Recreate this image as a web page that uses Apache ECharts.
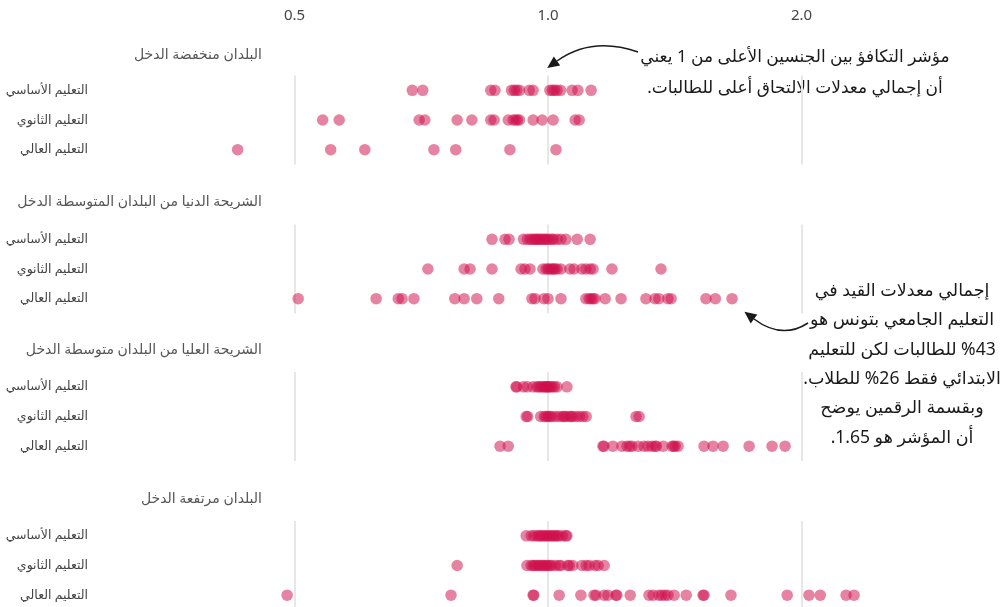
<!DOCTYPE html>
<html lang="ar">
<head>
<meta charset="utf-8">
<script src="https://cdn.jsdelivr.net/npm/echarts@6/dist/echarts.min.js"></script>
<style>
  html, body { margin: 0; padding: 0; background: #fff; }
  #chart { width: 1002px; height: 607px; }
</style>
</head>
<body>
<div id="chart" dir="rtl"></div>
<script>
// Gender parity index (female / male gross enrolment) by income group and level
const FONT = "'Noto Sans', 'DejaVu Sans', sans-serif";

const groupTitles = [
  'البلدان منخفضة الدخل',
  'الشريحة الدنيا من البلدان المتوسطة الدخل',
  'الشريحة العليا من البلدان متوسطة الدخل',
  'البلدان مرتفعة الدخل'
];
const levels = ['التعليم الأساسي', 'التعليم الثانوي', 'التعليم العالي'];
const tickValues = [0.5, 1, 2];

// Low income
const lowBasic = [0.69, 0.71, 0.855, 0.865, 0.905, 0.912, 0.918, 0.925, 0.95, 0.96, 1.005, 1.012, 1.018, 1.025, 1.035, 1.068, 1.085, 1.125];
const lowSecondary = [0.54, 0.565, 0.703, 0.714, 0.78, 0.812, 0.855, 0.863, 0.897, 0.909, 0.915, 0.92, 0.925, 0.96, 0.984, 1.014, 1.077, 1.089];
const lowTertiary = [0.428, 0.552, 0.606, 0.732, 0.777, 0.901, 1.022];
// Lower middle income
const lowerMidBasic = [0.858, 0.889, 0.899, 0.935, 0.945, 0.952, 0.958, 0.963, 0.968, 0.972, 0.977, 0.982, 0.987, 0.992, 0.997, 1.003, 1.01, 1.015, 1.025, 1.036, 1.05, 1.083, 1.122];
const lowerMidSecondary = [0.72, 0.795, 0.808, 0.858, 0.929, 0.939, 0.952, 0.986, 0.995, 1.0, 1.005, 1.011, 1.015, 1.019, 1.025, 1.036, 1.062, 1.074, 1.097, 1.109, 1.122, 1.131, 1.191, 1.362];
const lowerMidTertiary = [0.505, 0.625, 0.664, 0.671, 0.693, 0.775, 0.795, 0.823, 0.874, 0.957, 0.965, 0.989, 1.0, 1.036, 1.109, 1.119, 1.125, 1.131, 1.137, 1.169, 1.221, 1.307, 1.34, 1.354, 1.388, 1.4, 1.54, 1.58, 1.654];
// Upper middle income
const upperMidBasic = [0.916, 0.918, 0.935, 0.945, 0.96, 0.97, 0.975, 0.98, 0.985, 0.99, 0.993, 0.997, 1.0, 1.003, 1.007, 1.012, 1.018, 1.025, 1.053];
const upperMidSecondary = [0.942, 0.946, 0.98, 0.99, 0.995, 1.0, 1.005, 1.01, 1.02, 1.03, 1.04, 1.045, 1.05, 1.06, 1.065, 1.07, 1.08, 1.09, 1.1, 1.11, 1.272, 1.283];
const upperMidTertiary = [0.877, 0.897, 1.162, 1.165, 1.194, 1.224, 1.241, 1.25, 1.258, 1.279, 1.3, 1.314, 1.329, 1.34, 1.345, 1.37, 1.404, 1.41, 1.416, 1.427, 1.532, 1.57, 1.614, 1.733, 1.845, 1.912];
// High income
const highBasic = [0.942, 0.955, 0.962, 0.97, 0.975, 0.98, 0.985, 0.99, 0.995, 1.0, 1.005, 1.01, 1.015, 1.02, 1.025, 1.03, 1.04, 1.05, 1.053];
const highSecondary = [0.78, 0.944, 0.955, 0.96, 0.965, 0.97, 0.975, 0.98, 0.985, 0.99, 0.995, 1.0, 1.005, 1.01, 1.02, 1.03, 1.036, 1.055, 1.06, 1.07, 1.097, 1.11, 1.119, 1.137, 1.147, 1.166];
const highTertiary = [0.49, 0.767, 0.96, 0.962, 1.031, 1.094, 1.134, 1.14, 1.166, 1.178, 1.204, 1.207, 1.252, 1.318, 1.333, 1.354, 1.365, 1.377, 1.388, 1.412, 1.459, 1.528, 1.532, 1.649, 1.923, 2.041, 2.105, 2.259, 2.309];

const groupRows = [
  [lowBasic, lowSecondary, lowTertiary],
  [lowerMidBasic, lowerMidSecondary, lowerMidTertiary],
  [upperMidBasic, upperMidSecondary, upperMidTertiary],
  [highBasic, highSecondary, highTertiary]
];

const noteParity = 'مؤشر التكافؤ بين الجنسين الأعلى من 1 يعني\nأن إجمالي معدلات الالتحاق أعلى للطالبات.';
const noteTunisia = 'إجمالي معدلات القيد في\nالتعليم الجامعي بتونس هو\n%43 للطالبات لكن للتعليم\nالابتدائي فقط 26% للطلاب.\nوبقسمة الرقمين يوضح\nأن المؤشر هو 1.65.';

// Layout
const gridTops = [75.5, 224.5, 372, 521];
const titleCenters = [55, 202, 350, 499];
const gridLeft = 41, gridRight = 104.5, gridHeight = 89;
const DOT = '#d0104c';
const INK = '#1a1a1a';

const chart = echarts.init(document.getElementById('chart'), null, { renderer: 'canvas' });

const grids = gridTops.map(t => ({
  left: gridLeft, right: gridRight, top: t, height: gridHeight,
  containLabel: false, outerBoundsMode: 'none'
}));

const xAxes = gridTops.map((t, i) => ({
  type: 'log',
  logBase: 2,
  min: 0.25,
  max: 2.6,
  gridIndex: i,
  position: 'top',
  axisLine: { show: false },
  axisTick: { show: false },
  axisLabel: {
    show: i === 0,
    margin: 52,
    showMinLabel: false,
    showMaxLabel: false,
    fontSize: 15,
    color: '#444',
    fontFamily: FONT,
    formatter: v => tickValues.some(t => Math.abs(t - v) < 1e-6) ? v.toFixed(1) : ''
  },
  splitLine: {
    show: true,
    showMinLine: false,
    showMaxLine: false,
    lineStyle: { color: '#e7e7e7', width: 2 }
  }
}));

const yAxes = gridTops.map((t, i) => ({
  type: 'category',
  data: levels,
  inverse: true,
  gridIndex: i,
  offset: -47,
  axisLine: { show: false },
  axisTick: { show: false },
  splitLine: { show: false },
  axisLabel: { margin: 0, fontSize: 12.5, color: '#444', fontFamily: FONT }
}));

const series = [];
groupRows.forEach((rows, g) => {
  rows.forEach((vals, r) => {
    series.push({
      type: 'scatter',
      xAxisIndex: g,
      yAxisIndex: g,
      symbolSize: 11.5,
      silent: true,
      itemStyle: { color: DOT, opacity: 0.52 },
      data: vals.map(v => [v, levels[r]])
    });
  });
});

const titles = groupTitles.map((t, i) => ({
  text: t,
  right: 740,
  top: titleCenters[i] - 9,
  padding: 0,
  textStyle: { fontSize: 14, fontWeight: 'normal', color: '#555', fontFamily: FONT, lineHeight: 18 }
}));

// Curved annotation arrow: quadratic curve with a filled head at its end
function arrow(x1, y1, cx, cy, x2, y2) {
  const dx = x2 - cx, dy = y2 - cy;
  const len = Math.hypot(dx, dy);
  const ux = dx / len, uy = dy / len;
  const L = 12, W = 5.5;
  const tip = [x2 + ux * L, y2 + uy * L];
  const a = [x2 - uy * W, y2 + ux * W];
  const b = [x2 + uy * W, y2 - ux * W];
  return [
    { type: 'bezierCurve', silent: true,
      shape: { x1, y1, x2, y2, cpx1: cx, cpy1: cy },
      style: { stroke: INK, lineWidth: 1.5, fill: null } },
    { type: 'polygon', silent: true,
      shape: { points: [tip, a, b] },
      style: { fill: INK } }
  ];
}

const graphic = [
  { type: 'text', silent: true,
    style: { text: noteParity, x: 795, y: 41.5, align: 'center', verticalAlign: 'top',
             fontSize: 17, lineHeight: 31, fill: INK, fontFamily: FONT } },
  { type: 'text', silent: true,
    style: { text: noteTunisia, x: 902, y: 276.5, align: 'center', verticalAlign: 'top',
             fontSize: 17.5, lineHeight: 29.3, fill: INK, fontFamily: FONT } },
  ...arrow(638, 52, 592, 36, 557, 61),
  ...arrow(808, 323, 782, 340, 754, 319)
];

chart.setOption({
  animation: false,
  backgroundColor: '#fff',
  title: titles,
  grid: grids,
  xAxis: xAxes,
  yAxis: yAxes,
  series,
  graphic
});
</script>
</body>
</html>
